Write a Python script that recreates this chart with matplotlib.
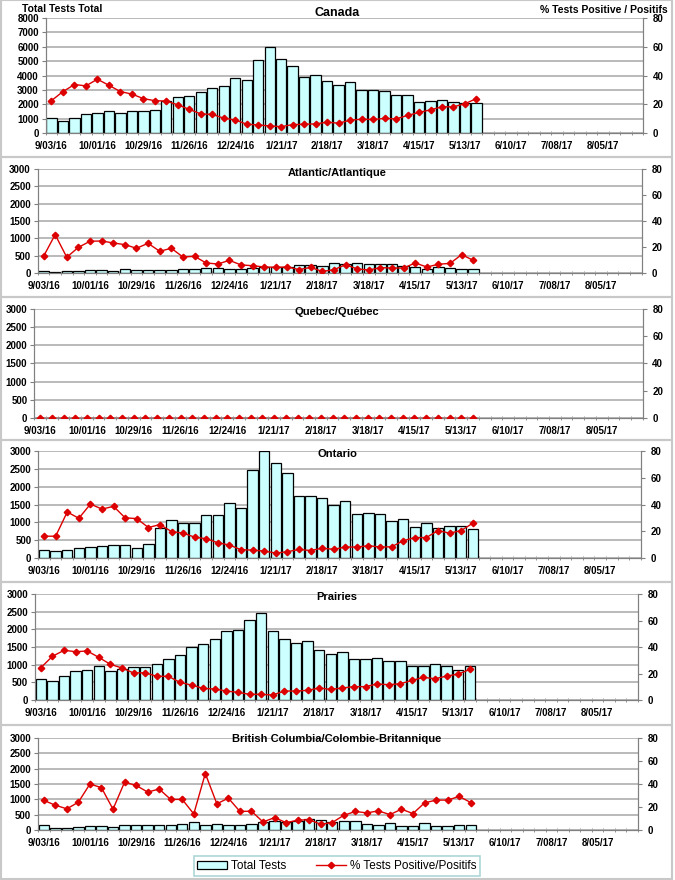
import matplotlib
matplotlib.use("Agg")
import matplotlib.pyplot as plt
from matplotlib.patches import Rectangle, Patch
from matplotlib.lines import Line2D

plt.rcParams['font.family'] = ['Liberation Sans', 'DejaVu Sans']

# 52 weekly categories, labelled every 4th week
n_weeks = 52
tick_labels = ["9/03/16", "10/01/16", "10/29/16", "11/26/16", "12/24/16", "1/21/17",
               "2/18/17", "3/18/17", "4/15/17", "5/13/17", "6/10/17", "7/08/17", "8/05/17"]

canada_tests = [1050, 840, 1075, 1290, 1360, 1500, 1380, 1545, 1520, 1615, 2200, 2530, 2570,
                2880, 3130, 3300, 3810, 3720, 5080, 5960, 5150, 4650, 3880, 4050, 3650, 3340,
                3530, 2990, 2990, 2920, 2620, 2640, 2150, 2250, 2320, 2175, 2100, 2060]
canada_pos = [22.5, 28.8, 33.7, 32.8, 37.4, 33.2, 28.8, 27.1, 23.9, 22.5, 22.2, 19.6, 16.4,
              13.3, 12.9, 10.3, 9.1, 6.1, 5.6, 4.9, 4.4, 5.8, 6.1, 6.3, 7.5, 6.8,
              8.9, 9.6, 9.4, 10.1, 9.8, 12.2, 14.3, 16.1, 18.2, 18.2, 20.4, 23.9]

atlantic_tests = [58, 29, 48, 67, 77, 96, 58, 106, 87, 77, 96, 96, 125, 125, 135, 144, 106,
                  106, 144, 173, 173, 173, 221, 240, 205, 293, 260, 298, 269, 260, 260, 202,
                  173, 115, 163, 135, 106, 115]
atlantic_pos = [12.8, 29.5, 12.1, 19.7, 24.4, 24.6, 23.1, 21.8, 19.0, 22.8, 16.7, 19.0, 12.3,
                12.8, 7.7, 6.9, 9.7, 6.2, 5.6, 4.6, 4.4, 4.6, 2.6, 4.3, 1.2, 2.5, 6.4, 3.1,
                2.3, 4.1, 3.8, 3.8, 7.7, 4.6, 6.7, 7.4, 14.1, 9.7]

quebec_tests = [0] * 38
quebec_pos = [0] * 38

ontario_tests = [214, 195, 223, 279, 297, 325, 353, 372, 270, 390, 846, 1059, 975, 975, 1217,
                 1217, 1533, 1403, 2470, 2990, 2665, 2396, 1746, 1728, 1681, 1486, 1607, 1245,
                 1273, 1245, 1031, 1106, 882, 994, 845, 901, 901, 817]
ontario_pos = [16.3, 16.3, 34.4, 29.7, 40.3, 36.6, 38.6, 30.0, 29.5, 22.8, 25.0, 19.8, 18.6,
               15.6, 14.4, 11.4, 9.7, 6.2, 5.9, 5.2, 3.7, 4.7, 6.4, 5.6, 7.3, 6.5, 8.2, 8.2,
               9.2, 8.2, 8.4, 12.9, 15.3, 15.3, 20.5, 18.6, 20.5, 26.0]

prairies_tests = [594, 547, 679, 830, 849, 953, 811, 887, 943, 943, 1028, 1170, 1264, 1509,
                  1594, 1726, 1943, 1991, 2264, 2453, 1962, 1726, 1604, 1679, 1406, 1292, 1349,
                  1170, 1170, 1198, 1113, 1094, 962, 972, 1028, 972, 858, 962]
prairies_pos = [24.4, 33.0, 37.5, 36.5, 37.0, 32.2, 26.9, 24.2, 20.4, 20.6, 17.9, 17.9, 13.3,
                11.3, 8.8, 8.3, 6.8, 5.8, 4.3, 4.3, 3.8, 6.8, 6.8, 7.3, 9.1, 8.0, 9.1, 10.1,
                10.1, 12.1, 11.6, 12.3, 14.8, 17.1, 16.1, 18.1, 19.6, 23.1]

bc_tests = [164, 55, 77, 98, 120, 120, 109, 153, 175, 175, 175, 175, 186, 252, 164, 197, 175,
            164, 197, 274, 306, 274, 296, 361, 317, 252, 285, 285, 197, 175, 241, 142, 142,
            230, 120, 131, 175, 164]
bc_pos = [25.7, 21.6, 18.4, 24.2, 40.0, 36.8, 18.1, 41.5, 38.8, 33.0, 35.6, 26.6, 26.6, 14.0,
          49.1, 22.8, 27.7, 16.1, 16.4, 7.0, 10.8, 6.4, 8.5, 9.0, 5.0, 6.5, 12.8, 16.1, 14.9,
          16.6, 13.4, 18.1, 14.3, 23.6, 26.0, 26.0, 29.2, 23.9]

BAR_COLOR = "#ccffff"
LINE_COLOR = "#dd0000"
GRID_COLOR = "#b4b4b4"
AXIS_COLOR = "#808080"


def draw_panel(fig, rect, tests, pos, ymax, ystep, title, title_y, title_size=8):
    ax = fig.add_axes(rect)
    x = list(range(len(tests)))
    ax.bar(x, tests, width=0.9, color=BAR_COLOR, edgecolor="black", linewidth=0.9, zorder=2)
    ax.set_xlim(-0.5, n_weeks - 0.5)
    ax.set_ylim(0, ymax)
    ax.set_yticks(range(0, ymax + 1, ystep))
    ax.set_axisbelow(True)
    ax.yaxis.grid(True, color=GRID_COLOR, linewidth=1.3)
    ax.set_xticks(range(0, n_weeks, 4))
    ax.set_xticklabels(tick_labels)
    ax.set_xticks([i - 0.5 for i in range(n_weeks + 1)], minor=True)
    ax.tick_params(axis="x", which="major", length=0, pad=6, labelsize=7)
    ax.tick_params(axis="x", which="minor", length=3, direction="inout", color=AXIS_COLOR)
    ax.tick_params(axis="y", length=3, labelsize=7, color=AXIS_COLOR, pad=2)
    for lab in ax.get_xticklabels() + ax.get_yticklabels():
        lab.set_fontweight("bold")
    ax.spines["top"].set_visible(False)
    for s in ("left", "right", "bottom"):
        ax.spines[s].set_color(AXIS_COLOR)

    ax2 = ax.twinx()
    ax2.plot(x, pos, color=LINE_COLOR, marker="D", markersize=3.3, linewidth=1.0, zorder=3)
    ax2.set_ylim(0, 80)
    ax2.set_yticks([0, 20, 40, 60, 80])
    ax2.tick_params(axis="y", length=3, labelsize=7, color=AXIS_COLOR, pad=4)
    for lab in ax2.get_yticklabels():
        lab.set_fontweight("bold")
    ax2.spines["top"].set_visible(False)
    for s in ("left", "right", "bottom"):
        ax2.spines[s].set_color(AXIS_COLOR)

    fig.text(0.4993, title_y, title, ha="center", va="center", fontsize=title_size,
             fontweight="bold")
    return ax


fig = plt.figure(figsize=(6.75, 8.8), dpi=100)

# chart frames (each region was its own chart)
frames = [(0, 157), (157, 297), (297, 440), (440, 582), (582, 725), (725, 879)]
for top, bottom in frames:
    fig.add_artist(Rectangle((0.002, 1 - bottom / 880), 0.994, (bottom - top) / 880,
                             transform=fig.transFigure, fill=False,
                             edgecolor="#c8c8c8", linewidth=1.5))

draw_panel(fig, [0.0677, 0.8489, 0.8849, 0.1306], canada_tests, canada_pos, 8000, 1000,
           "Canada", 1 - 13 / 880, title_size=9)
draw_panel(fig, [0.0559, 0.6898, 0.8948, 0.1182], atlantic_tests, atlantic_pos, 3000, 500,
           "Atlantic/Atlantique", 1 - 173 / 880)
draw_panel(fig, [0.0508, 0.5250, 0.9012, 0.1239], quebec_tests, quebec_pos, 3000, 500,
           "Quebec/Québec", 1 - 312 / 880)
draw_panel(fig, [0.0567, 0.3659, 0.8925, 0.1216], ontario_tests, ontario_pos, 3000, 500,
           "Ontario", 1 - 454 / 880)
draw_panel(fig, [0.0519, 0.2045, 0.8933, 0.1205], prairies_tests, prairies_pos, 3000, 500,
           "Prairies", 1 - 597 / 880)
draw_panel(fig, [0.0563, 0.0568, 0.8889, 0.1046], bc_tests, bc_pos, 3000, 500,
           "British Columbia/Colombie-Britannique", 1 - 739 / 880)

fig.text(22 / 675, 1 - 9 / 880, "Total Tests Total", ha="left", va="center", fontsize=7.5,
         fontweight="bold")
fig.text(668 / 675, 1 - 10 / 880, "% Tests Positive / Positifs", ha="right", va="center",
         fontsize=7.5, fontweight="bold")

handles = [Patch(facecolor=BAR_COLOR, edgecolor="black", linewidth=0.9),
           Line2D([], [], color=LINE_COLOR, marker="D", markersize=3.3, linewidth=1.0)]
leg = fig.legend(handles, ["Total Tests", "% Tests Positive/Positifs"], loc="center",
                 bbox_to_anchor=(337 / 675, 1 - 866 / 880), ncol=2, fontsize=8.5,
                 frameon=True, fancybox=False, borderpad=0.3, columnspacing=2.5,
                 handlelength=2.5, handletextpad=0.4)
leg.get_frame().set_edgecolor("#99cccc")
leg.get_frame().set_linewidth(1.2)

fig.savefig("out.png", dpi=100)
plt.close(fig)
